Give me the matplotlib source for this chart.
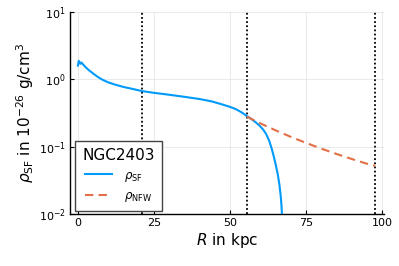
import matplotlib
matplotlib.use("Agg")
import matplotlib.pyplot as plt
from matplotlib.ticker import LogLocator, NullLocator

# Data
r_sf = [0.0, 0.3, 0.8, 1.2, 1.6, 2.5, 3.5, 5.0, 6.5, 8.0, 10.0, 12.0, 15.0, 18.0,
        21.0, 25.0, 30.0, 35.0, 40.0, 44.0, 47.0, 50.0, 52.0, 54.0, 55.6, 57.0,
        58.5, 60.0, 61.0, 62.0, 63.0, 63.8, 64.5, 65.2, 65.8, 66.3, 66.7, 67.0,
        67.2, 67.3]
rho_sf = [1.6, 1.88, 1.7, 1.78, 1.68, 1.52, 1.38, 1.22, 1.09, 0.99, 0.9, 0.84, 0.77,
          0.72, 0.67, 0.63, 0.59, 0.55, 0.51, 0.47, 0.43, 0.39, 0.36, 0.32, 0.285,
          0.258, 0.23, 0.20, 0.178, 0.152, 0.12, 0.092, 0.07, 0.051, 0.038, 0.027,
          0.019, 0.013, 0.008, 0.004]
r_nfw = [55.6, 60.0, 65.0, 70.0, 75.0, 80.0, 85.0, 90.0, 95.0, 97.8]
rho_nfw = [0.279, 0.222, 0.175, 0.140, 0.114, 0.0937, 0.0781, 0.0658, 0.0559, 0.052]
vlines = [21.0, 55.6, 97.8]
xticks = [0, 25, 50, 75, 100]
legend_title = "NGC2403"

plt.rcParams['font.family'] = ['DejaVu Sans']
plt.rcParams['mathtext.fontset'] = 'dejavusans'

fig = plt.figure(figsize=(3.99, 2.66), dpi=100)
ax = fig.add_axes([0.1754, 0.1955, 0.7870, 0.7595])

ax.plot(r_sf, rho_sf, color='#009AFA', lw=1.5, label=r'$\rho_\mathrm{SF}$', zorder=3)
ax.plot(r_nfw, rho_nfw, color='#E26F46', lw=1.5, ls=(0, (4, 2.5)),
        label=r'$\rho_\mathrm{NFW}$', zorder=3)
for v in vlines:
    ax.axvline(v, color='black', ls=(0, (1, 1.3)), lw=1.3, zorder=2)

ax.set_yscale('log')
ax.set_ylim(1e-2, 1e1)
ax.set_xlim(-2.6, 100.7)
ax.set_xticks(xticks)
ax.yaxis.set_major_locator(LogLocator(base=10, numticks=10))
ax.yaxis.set_minor_locator(NullLocator())

ax.grid(True, color='#e6e6e6', lw=0.6, zorder=0)
for s in ['top', 'right']:
    ax.spines[s].set_visible(False)
for s in ['left', 'bottom']:
    ax.spines[s].set_linewidth(1.0)
ax.tick_params(direction='in', length=3, width=0.8, labelsize=8, pad=3)

ax.set_xlabel(r'$R$ in kpc', fontsize=11, labelpad=2)
ax.set_ylabel(r'$\rho_\mathrm{SF}$ in $10^{-26}$ g/cm$^3$', fontsize=11, labelpad=2)

leg = ax.legend(title=legend_title, loc='lower left', bbox_to_anchor=(0.016, 0.015),
                borderaxespad=0, fontsize=8.5, title_fontsize=11,
                frameon=True, fancybox=False, framealpha=1,
                handlelength=2.3, borderpad=0.6, labelspacing=0.45, handletextpad=1.0)
leg.get_frame().set_edgecolor('#444444')
leg.get_frame().set_linewidth(1.0)
leg._legend_box.align = "center"

fig.savefig('out.png', dpi=100)
